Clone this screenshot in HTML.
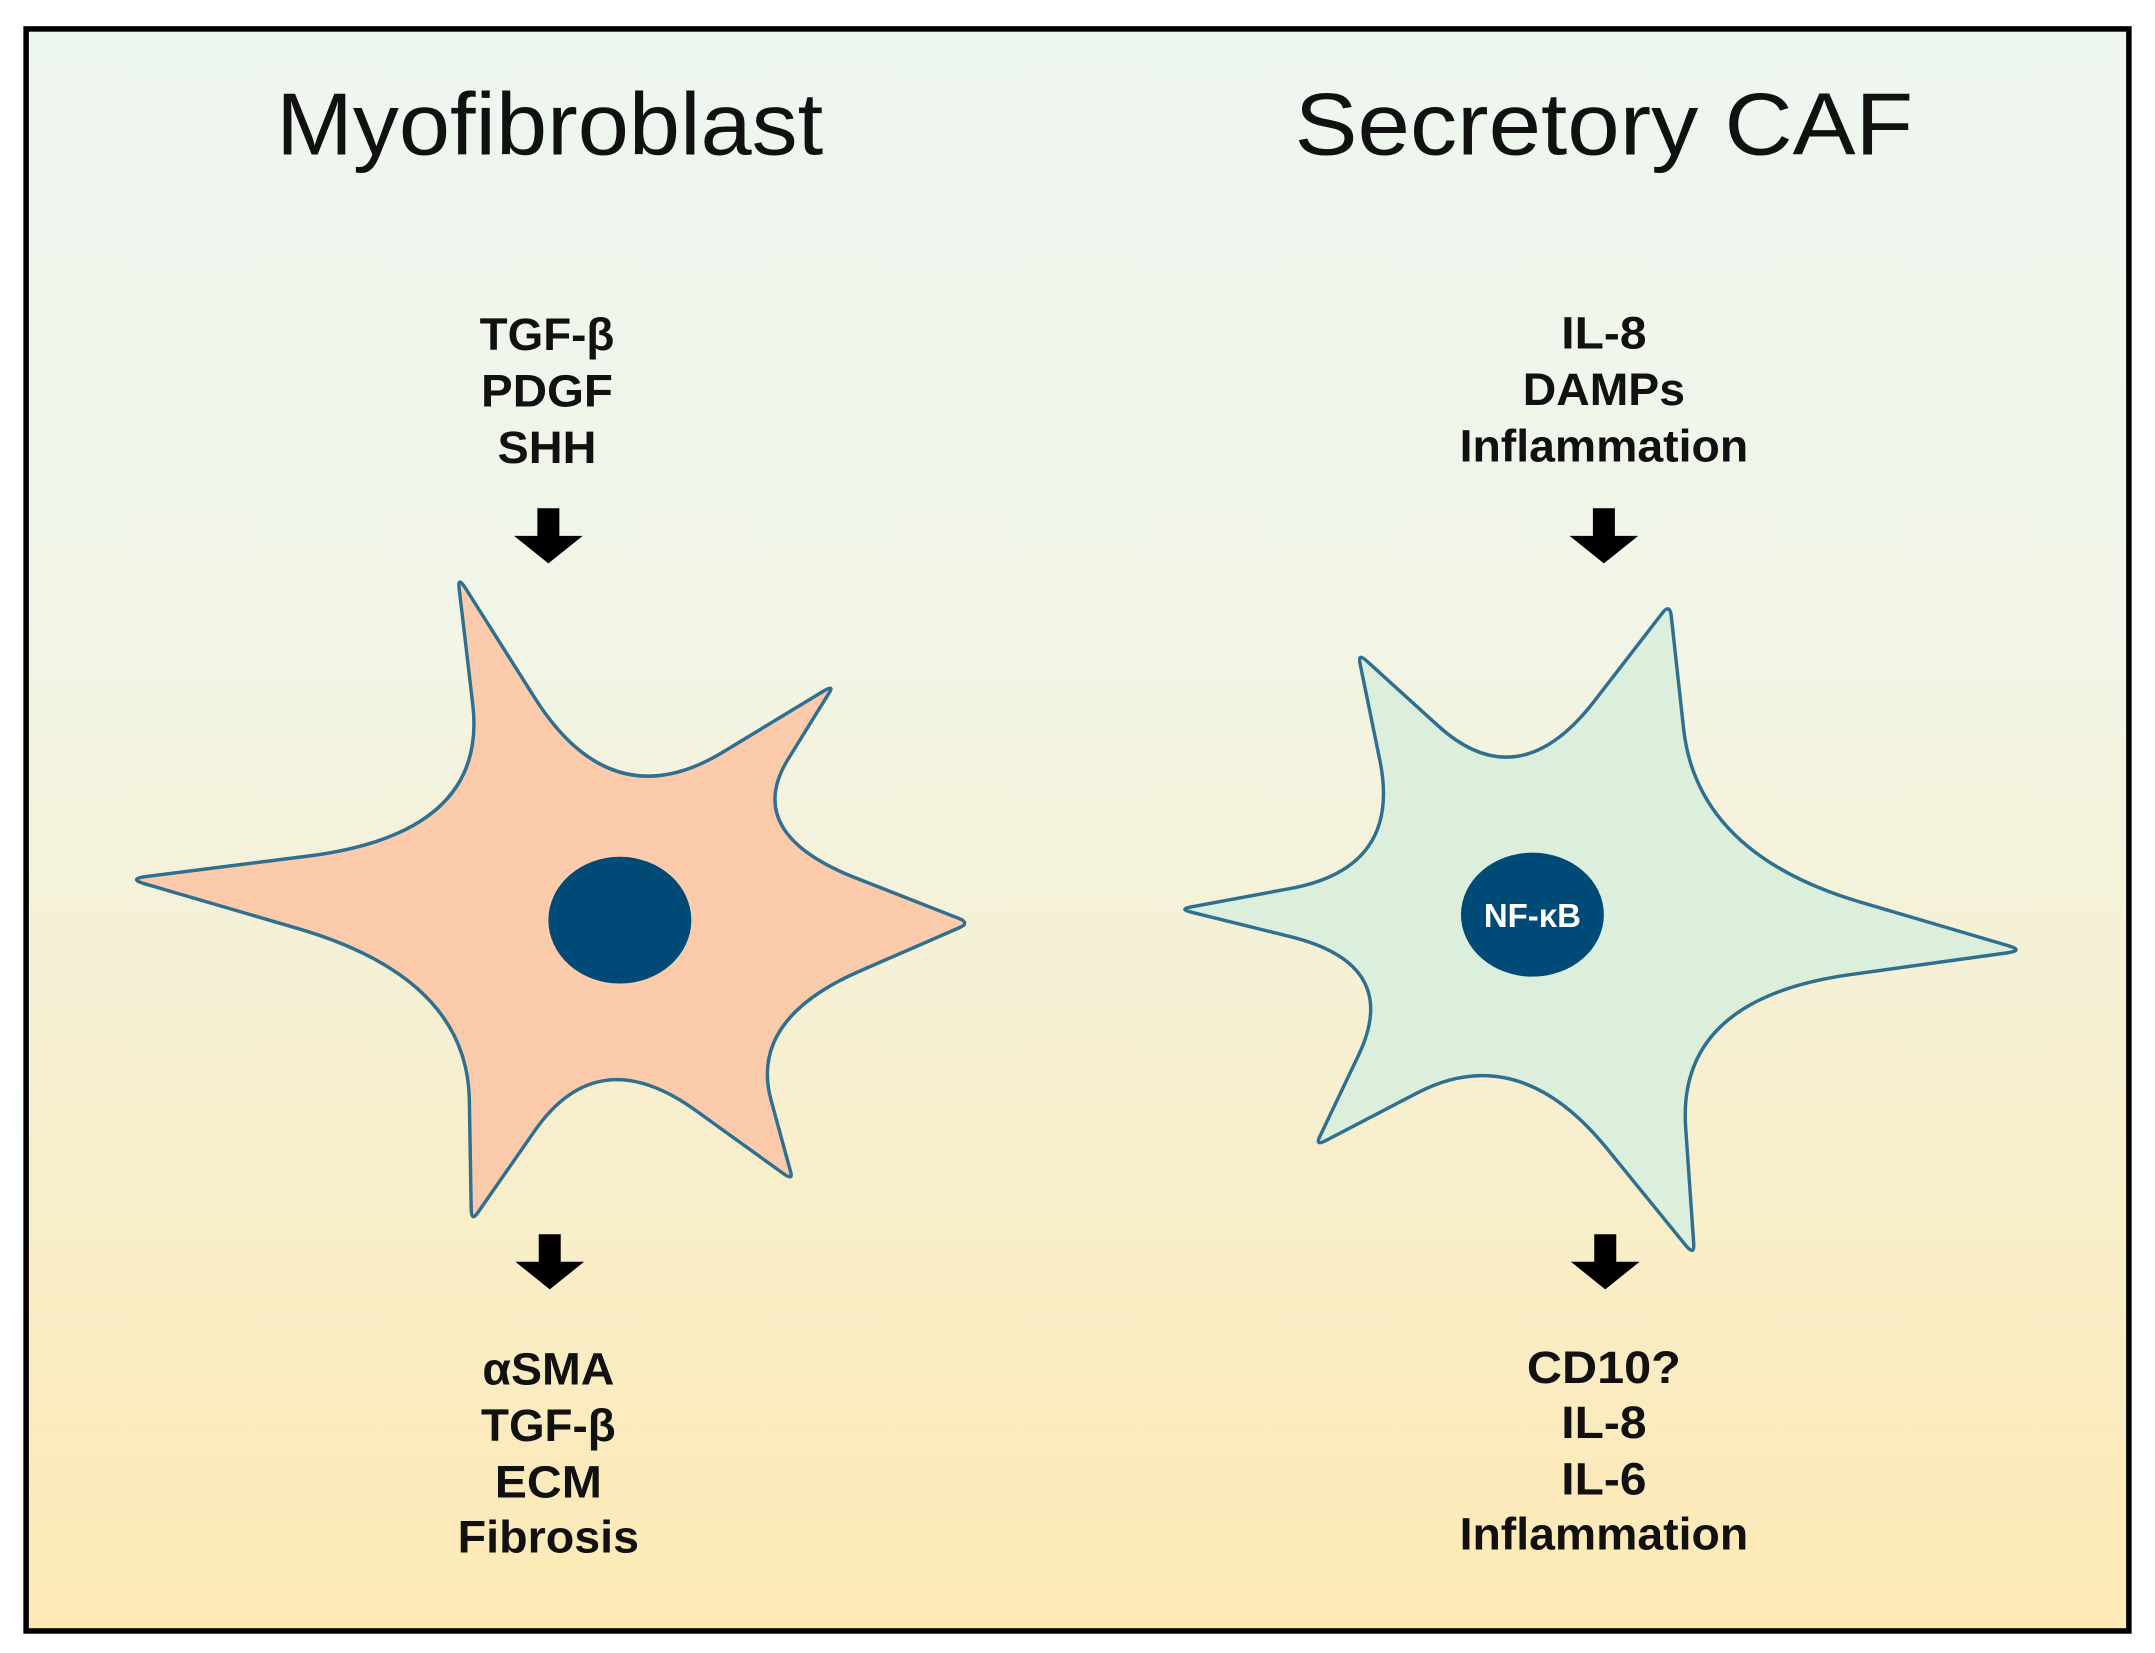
<!DOCTYPE html>
<html><head><meta charset="utf-8"><style>
html,body{margin:0;padding:0;background:#fff;width:2155px;height:1653px;overflow:hidden}
svg{display:block}
text{font-family:"Liberation Sans",sans-serif}
</style></head><body>
<svg id="s" width="2155" height="1653" viewBox="0 0 1568 1200" preserveAspectRatio="none" xmlns="http://www.w3.org/2000/svg">
<defs><linearGradient id="g" x1="0" y1="0" x2="0" y2="1">
<stop offset="0" stop-color="#eef6f0"/><stop offset="0.35" stop-color="#f1f5e8"/><stop offset="1" stop-color="#fde9b4"/></linearGradient></defs>
<rect x="0" y="0" width="1568" height="1200" fill="#fff"/>
<rect x="19" y="21" width="1530" height="1163" fill="url(#g)" stroke="#000" stroke-width="4"/>
<text x="400" y="112" font-size="64" text-anchor="middle" fill="#111" textLength="398" lengthAdjust="spacingAndGlyphs">Myofibroblast</text>
<text x="1167" y="112" font-size="64" text-anchor="middle" fill="#111" textLength="450" lengthAdjust="spacingAndGlyphs">Secretory CAF</text>
<g font-size="33" font-weight="bold" text-anchor="middle" fill="#111">
<text x="398" y="254" textLength="98" lengthAdjust="spacingAndGlyphs">TGF-β</text>
<text x="398" y="295" textLength="96" lengthAdjust="spacingAndGlyphs">PDGF</text>
<text x="398" y="336" textLength="72" lengthAdjust="spacingAndGlyphs">SHH</text>
<text x="1167" y="253" textLength="62" lengthAdjust="spacingAndGlyphs">IL-8</text>
<text x="1167" y="294" textLength="118" lengthAdjust="spacingAndGlyphs">DAMPs</text>
<text x="1167" y="335" textLength="210" lengthAdjust="spacingAndGlyphs">Inflammation</text>
<text x="399" y="1005" textLength="96" lengthAdjust="spacingAndGlyphs">αSMA</text>
<text x="399" y="1046" textLength="98" lengthAdjust="spacingAndGlyphs">TGF-β</text>
<text x="399" y="1087" textLength="78" lengthAdjust="spacingAndGlyphs">ECM</text>
<text x="399" y="1127" textLength="132" lengthAdjust="spacingAndGlyphs">Fibrosis</text>
<text x="1167" y="1004" textLength="112" lengthAdjust="spacingAndGlyphs">CD10?</text>
<text x="1167" y="1044" textLength="62" lengthAdjust="spacingAndGlyphs">IL-8</text>
<text x="1167" y="1085" textLength="62" lengthAdjust="spacingAndGlyphs">IL-6</text>
<text x="1167" y="1125" textLength="210" lengthAdjust="spacingAndGlyphs">Inflammation</text>
</g>
<g fill="#000">
<path d="M391 369h16v20h17l-25 20l-25-20h17z"/>
<path d="M1159 369h16v20h17l-25 20l-25-20h17z"/>
<path d="M392 896h16v20h17l-25 20l-25-20h17z"/>
<path d="M1160 896h16v20h17l-25 20l-25-20h17z"/>
</g>
<path id="c1" fill="#fccbab" stroke="#2f6f8f" stroke-width="2.5"/>
<path id="c2" fill="#dcefdc" stroke="#2f6f8f" stroke-width="2.5"/>
<ellipse cx="451" cy="668" rx="52" ry="46" fill="#004a78"/>
<ellipse cx="1115" cy="664" rx="52" ry="45" fill="#004a78"/>
<text x="1115" y="673" font-size="24" font-weight="bold" text-anchor="middle" fill="#fff">NF-κB</text>
</svg>
<script>
function star(pts){
  var n=pts.length,d='';
  function lerp(a,b,f){return [a[0]+(b[0]-a[0])*f,a[1]+(b[1]-a[1])*f];}
  for(var i=0;i<n;i++){
    var p=pts[i],pr=pts[(i+n-1)%n],nx=pts[(i+1)%n];
    var f=p[2]=='t'?0.05:0.5;
    var a=lerp(p,pr,f),b=lerp(p,nx,f);
    if(i==0)d+='M'+a[0]+' '+a[1];else d+='L'+a[0]+' '+a[1];
    d+='Q'+p[0]+' '+p[1]+' '+b[0]+' '+b[1];
  }
  return d+'Z';
}
document.getElementById('c1').setAttribute('d',star([
[333,418,'t'],[445,595,'v'],[607,497,'t'],[540,605,'v'],[706,670,'t'],[545,740,'v'],[577,857,'t'],[435,755,'v'],[343,887,'t'],[340,710,'v'],[93,638,'t'],[355,605,'v']]));
document.getElementById('c2').setAttribute('d',star([
[988,474,'t'],[1105,580,'v'],[1215,438,'t'],[1235,620,'v'],[1473,690,'t'],[1220,725,'v'],[1233,912,'t'],[1105,755,'v'],[957,832,'t'],[1020,700,'v'],[858,660,'t'],[1020,630,'v']]));
</script>
</body></html>
